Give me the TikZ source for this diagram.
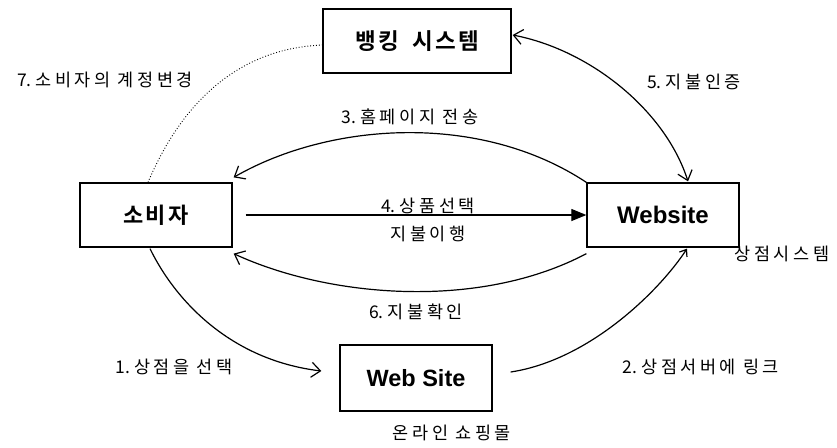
\documentclass[tikz,border=0pt]{standalone}
\usepackage{fontspec}
\usetikzlibrary{arrows.meta,calc}
\setmainfont{Liberation Sans}
\newfontfamily\kr{Noto Sans CJK KR}[LetterSpace=20]
\newfontfamily\krplain{Noto Sans CJK KR}
\newfontfamily\krb{Noto Sans CJK KR Bold}[LetterSpace=10]
% step number set without tracking
\newcommand{\stepno}[1]{{\krplain #1.}\hspace{4pt}}
\begin{document}
\begin{tikzpicture}[x=1pt,y=-1pt,
  box/.style={draw,line width=1.3pt,minimum width=152pt,minimum height=64pt,inner sep=0pt},
  lbl/.style={font=\kr\fontsize{17.5}{19}\selectfont,inner sep=0pt},
  conn/.style={line width=1.2pt},
  openhead/.style={-{Straight Barb[length=9pt,width=15pt,line width=1.2pt]}},
  bothhead/.style={{Straight Barb[length=9pt,width=15pt,line width=1.2pt]}-{Straight Barb[length=9pt,width=15pt,line width=1.2pt]}}
]
\useasboundingbox (0,0) rectangle (837,447);

% boxes
\node[box,minimum width=188pt,font=\krb\fontsize{22.5}{26}\selectfont] (bank) at (417,41) {뱅킹\hspace{6pt} 시스템};
\node[box,font=\krb\fontsize{22}{26}\selectfont] (cons) at (156,215) {소비자};
\node[box,font=\bfseries\fontsize{24}{28}\selectfont] (web) at (663,215) {Website};
\node[box,minimum height=66pt,font=\bfseries\fontsize{23.5}{28}\selectfont] (site) at (416,378) {Web Site};

% captions under / beside boxes
\node[lbl] (capweb) at (782,254) {상점시스템};
\node[lbl] (capsite) at (452,433) {온라인 쇼핑몰};

% message labels
\node[lbl] (m7) at (105,80) {\stepno{7}소비자의 계정변경};
\node[lbl] (m3) at (410,117) {\stepno{3}홈페이지 전송};
\node[lbl] (m5) at (694,82) {\stepno{5}지불인증};
\node[lbl] (m4a) at (428,206) {\stepno{4}상품선택};
\node[lbl] (m4b) at (428,234) {지불이행};
\node[lbl] (m6) at (416,312) {\stepno{6}지불확인};
\node[lbl] (m1) at (174,367) {\stepno{1}상점을 선택};
\node[lbl] (m2) at (701,367) {\stepno{2}상점서버에 링크};

% connectors
\draw[dotted,line width=0.9pt] ($(cons.north)+(-8,0)$) .. controls (185,95) and (245,48) .. ($(bank.west)+(0,4)$);
\draw[conn,bothhead] ($(bank.east)+(1,-6)$) .. controls (590,50) and (665,110) .. ($(web.north)+(25,-1)$);
\draw[conn,openhead] (web.north west) .. controls (480,112) and (330,122) .. ($(cons.north east)+(1,-5)$);
\draw[conn,-{Triangle[length=15pt,width=12pt]}] ($(cons.east)+(13,0)$) -- (web.west);
\draw[conn,openhead] ($(web.south west)+(0,6)$) .. controls (480,310) and (330,298) .. ($(cons.south east)+(1,6)$);
\draw[conn,openhead] ($(cons.south)+(-6,1)$) .. controls (175,300) and (230,360) .. ($(site.west)+(-18,-7)$);
\draw[conn,-{Straight Barb[length=6pt,width=9pt,line width=1.2pt]}] ($(site.east)+(18,-6)$) .. controls (590,360) and (660,290) .. ($(web.south)+(24,1)$);
\end{tikzpicture}
\end{document}
